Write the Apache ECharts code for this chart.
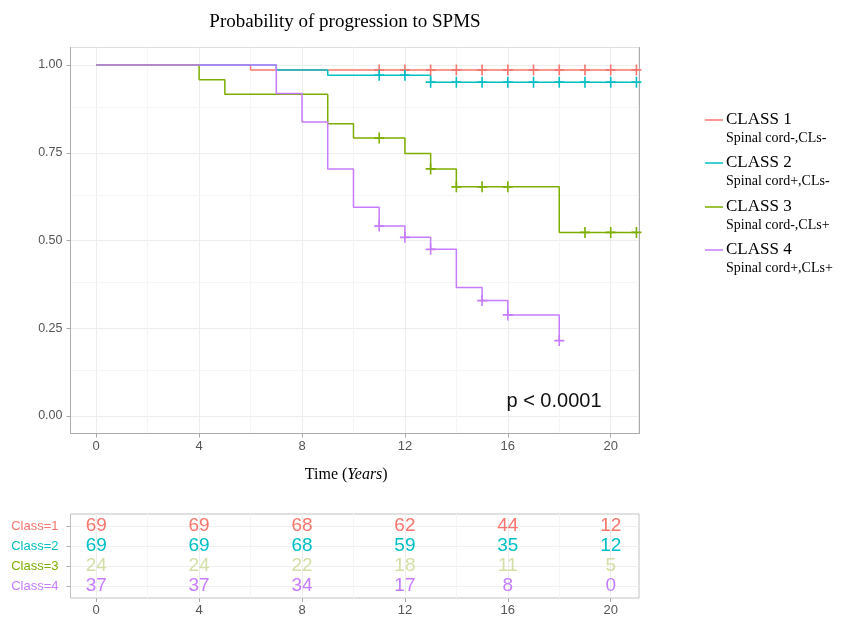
<!DOCTYPE html>
<html><head><meta charset="utf-8">
<script src="https://cdn.jsdelivr.net/npm/echarts@6/dist/echarts.min.js"></script>
<style>html,body{margin:0;padding:0;background:#fff}#c{width:841px;height:617px}</style>
</head><body><div id="c"></div>
<script>
// ---- data ----
const timeTicks = [0, 4, 8, 12, 16, 20];
const timeMinorTicks = [2, 6, 10, 14, 18];
const survTicks = [0, 0.25, 0.5, 0.75, 1];
const survMinorTicks = [0.125, 0.375, 0.625, 0.875];
const classNames = ['CLASS 1', 'CLASS 2', 'CLASS 3', 'CLASS 4'];
const classDescs = ['Spinal cord-,CLs-', 'Spinal cord+,CLs-', 'Spinal cord-,CLs+', 'Spinal cord+,CLs+'];
const riskLabels = ['Class=1', 'Class=2', 'Class=3', 'Class=4'];

const class1Time = [0, 6, 21];
const class1Surv = [1, 0.986, 0.986];
const class1Censor = [11, 12, 13, 14, 15, 16, 17, 18, 19, 20, 21];

const class2Time = [0, 7, 9, 13, 21];
const class2Surv = [1, 0.986, 0.971, 0.951, 0.951];
const class2Censor = [11, 12, 13, 14, 15, 16, 17, 18, 19, 20, 21];

const class3Time = [0, 4, 5, 9, 10, 12, 13, 14, 18, 21];
const class3Surv = [1, 0.958, 0.917, 0.833, 0.792, 0.748, 0.704, 0.653, 0.523, 0.523];
const class3Censor = [11, 13, 14, 15, 16, 19, 20, 21];

const class4Time = [0, 7, 8, 9, 10, 11, 12, 13, 14, 15, 16, 18];
const class4Surv = [1, 0.919, 0.838, 0.704, 0.595, 0.541, 0.509, 0.475, 0.366, 0.329, 0.288, 0.215];
const class4Censor = [11, 12, 13, 15, 16, 18];

const riskTimes = [0, 4, 8, 12, 16, 20];
const class1Risk = [69, 69, 68, 62, 44, 12];
const class2Risk = [69, 69, 68, 59, 35, 12];
const class3Risk = [24, 24, 22, 18, 11, 5];
const class4Risk = [37, 37, 34, 17, 8, 0];

const pValueText = 'p < 0.0001';

// ---- styling ----
const colors = ['#F8766D', '#00BFC4', '#7CAE00', '#C77CFF'];
const riskNumColors = ['#F8766D', '#00BFC4', '#d2dfa6', '#C77CFF'];
const serif = 'Liberation Serif, Times New Roman, serif';
const sans = 'Liberation Sans, Arial, sans-serif';
const axisGray = '#ababab';
const labelGray = '#555555';
const plusPath = 'path://M4.2,0H5.8V4.2H10V5.8H5.8V10H4.2V5.8H0V4.2H4.2Z';

const curves = [
  [class1Time, class1Surv, class1Censor],
  [class2Time, class2Surv, class2Censor],
  [class3Time, class3Surv, class3Censor],
  [class4Time, class4Surv, class4Censor]
];
const risks = [class1Risk, class2Risk, class3Risk, class4Risk];

function survAt(times, surv, t) {
  let v = surv[0];
  for (let i = 0; i < times.length; i++) if (times[i] <= t) v = surv[i];
  return v;
}

const series = [];
// minor grid lines (main panel)
series.push({
  type: 'line', xAxisIndex: 0, yAxisIndex: 0, data: [], z: 0, silent: true,
  markLine: {
    silent: true, z: 0, symbol: ['none', 'none'], label: { show: false }, animation: false,
    lineStyle: { color: '#f5f5f5', width: 1, type: 'solid' },
    data: timeMinorTicks.map(v => ({ xAxis: v })).concat(survMinorTicks.map(v => ({ yAxis: v })))
  }
});
// minor grid lines (risk table)
series.push({
  type: 'line', xAxisIndex: 1, yAxisIndex: 2, data: [], z: 0, silent: true,
  markLine: {
    silent: true, z: 0, symbol: ['none', 'none'], label: { show: false }, animation: false,
    lineStyle: { color: '#f5f5f5', width: 1, type: 'solid' },
    data: timeMinorTicks.map(v => ({ xAxis: v }))
  }
});

curves.forEach((c, k) => {
  const [times, surv, cens] = c;
  series.push({
    name: classNames[k], type: 'line', step: 'end', xAxisIndex: 0, yAxisIndex: 0,
    data: times.map((t, i) => [t, surv[i]]), symbol: 'none', z: 3,
    lineStyle: { color: colors[k], width: 1.5 }, itemStyle: { color: colors[k] }
  });
  series.push({
    type: 'scatter', xAxisIndex: 0, yAxisIndex: 0, z: 4,
    data: cens.map(t => [t, survAt(times, surv, t)]),
    symbol: plusPath, symbolSize: [10, 11], itemStyle: { color: colors[k], opacity: 1 }
  });
});

risks.forEach((r, k) => {
  series.push({
    type: 'scatter', xAxisIndex: 1, yAxisIndex: 2, z: 4,
    data: riskTimes.map((t, i) => [t, k + 1, r[i]]),
    symbolSize: 1, itemStyle: { color: 'rgba(0,0,0,0)', opacity: 1 },
    label: {
      show: true, position: 'inside', formatter: p => String(p.value[2]),
      color: riskNumColors[k], fontFamily: sans, fontSize: 19, opacity: 1
    }
  });
});

const legendY = [120, 163, 207, 250];
const graphics = [
  { type: 'text', z: 20, x: 345, y: 22, style: { text: 'Probability of progression to SPMS', font: '19px ' + serif, fill: '#000', textAlign: 'center', textVerticalAlign: 'middle' } },
  { type: 'text', z: 20, x: 554, y: 401, style: { text: pValueText, font: '20px ' + sans, fill: '#111', textAlign: 'center', textVerticalAlign: 'middle' } }
];
classNames.forEach((n, k) => {
  const y = legendY[k];
  graphics.push({ type: 'line', z: 20, shape: { x1: 705, y1: y, x2: 723, y2: y }, style: { stroke: colors[k], lineWidth: 1.5 } });
  graphics.push({ type: 'text', z: 20, x: 726, y: y, style: { text: n, font: '17px ' + serif, fill: '#000', textAlign: 'left', textVerticalAlign: 'middle' } });
  graphics.push({ type: 'text', z: 20, x: 726, y: y + 18, style: { text: classDescs[k], font: '14px ' + serif, fill: '#000', textAlign: 'left', textVerticalAlign: 'middle' } });
});

const option = {
  animation: false,
  backgroundColor: '#ffffff',
  grid: [
    { left: 70.5, top: 47.5, width: 568.5, height: 386, show: true, borderColor: '#dedede', borderWidth: 1 },
    { left: 70.5, top: 514, width: 568.5, height: 85, show: true, borderColor: '#c2c2c2', borderWidth: 1 }
  ],
  xAxis: [
    {
      type: 'value', gridIndex: 0, min: -1, max: 21.1,
      axisLine: { show: true, onZero: false, lineStyle: { color: axisGray } },
      axisTick: { show: true, length: 4, customValues: timeTicks, lineStyle: { color: axisGray } },
      axisLabel: { customValues: timeTicks, color: labelGray, fontFamily: sans, fontSize: 13, margin: 6 },
      splitLine: { show: true, lineStyle: { color: '#ededed' } },
      name: 'Time ({i|Years})', nameLocation: 'middle', nameGap: 33,
      nameTextStyle: { fontFamily: serif, fontSize: 16, color: '#000', padding: [0, 17, 0, 0],
        rich: { i: { fontFamily: serif, fontSize: 16, fontStyle: 'italic', color: '#000' } } }
    },
    {
      type: 'value', gridIndex: 1, min: -1, max: 21.1,
      axisLine: { show: false, onZero: false },
      axisTick: { show: true, length: 4, customValues: timeTicks, lineStyle: { color: axisGray } },
      axisLabel: { customValues: timeTicks, color: labelGray, fontFamily: sans, fontSize: 13, margin: 6 },
      splitLine: { show: true, lineStyle: { color: '#ededed' } }
    }
  ],
  yAxis: [
    {
      type: 'value', gridIndex: 0, min: -0.05, max: 1.05,
      axisLine: { show: true, onZero: false, lineStyle: { color: axisGray } },
      axisTick: { show: true, length: 4, customValues: survTicks, lineStyle: { color: axisGray } },
      axisLabel: { customValues: survTicks, color: labelGray, fontFamily: sans, fontSize: 12.5, margin: 8,
        formatter: v => Number(v).toFixed(2) },
      splitLine: { show: true, lineStyle: { color: '#ededed' } }
    },
    {
      type: 'value', gridIndex: 0, min: -0.05, max: 1.05, position: 'right',
      axisLine: { show: true, onZero: false, lineStyle: { color: axisGray } },
      axisTick: { show: false }, axisLabel: { show: false }, splitLine: { show: false }
    },
    {
      type: 'value', gridIndex: 1, min: 0.4, max: 4.6, inverse: true, position: 'left',
      axisLine: { show: false, onZero: false },
      axisTick: { show: true, length: 4, customValues: [1, 2, 3, 4], lineStyle: { color: axisGray } },
      axisLabel: { customValues: [1, 2, 3, 4], fontFamily: sans, fontSize: 13, margin: 12,
        formatter: v => riskLabels[Math.round(Number(v)) - 1],
        color: (v) => colors[Math.round(Number(v)) - 1] },
      splitLine: { show: true, lineStyle: { color: '#f0f0f0' } }
    }
  ],
  graphic: graphics,
  series: series
};

const chart = echarts.init(document.getElementById('c'), null, { renderer: 'canvas' });
chart.setOption(option);
</script>
</body></html>
